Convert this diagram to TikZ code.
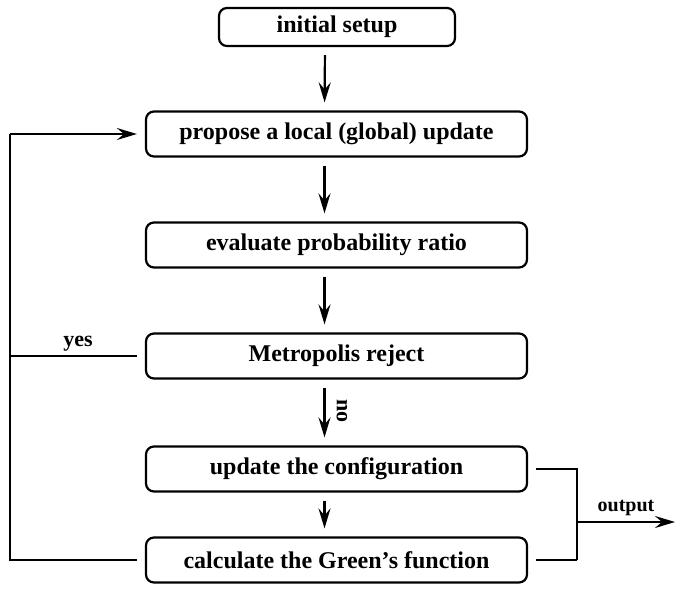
\documentclass[tikz,border=0pt]{standalone}
\usepackage{fontspec}
\setmainfont{Liberation Serif}
\usetikzlibrary{arrows.meta,calc}
\tikzset{
  box/.style={draw,line width=2.2pt,rounded corners=8pt,minimum width=381pt,minimum height=45pt,inner sep=0pt,font=\fontsize{24}{28}\selectfont\bfseries},
  line/.style={line width=2.2pt},
  arr/.style={line width=2.2pt,-{Stealth[length=20pt,width=12pt,inset=7pt]}},
  lbl/.style={font=\fontsize{22}{26}\selectfont\bfseries,inner sep=0pt}
}
\begin{document}
\begin{tikzpicture}[x=1pt,y=-1pt]
\useasboundingbox (0,0) rectangle (675,599);
\node[box,minimum width=236pt,minimum height=38pt] (init) at (337,27) {initial setup};
\node[box] (prop) at (336.5,134) {propose a local (global) update};
\node[box] (eval) at (336.5,245) {evaluate probability ratio};
\node[box] (metro) at (336.5,356) {Metropolis reject};
\node[box] (upd) at (336.5,469) {update the configuration};
\node[box] (calc) at (336.5,560) {calculate the Green's function};
\coordinate (L1) at (10,134);
\coordinate (L2) at (10,356);
\coordinate (L3) at (10,560);
\coordinate (R1) at (577,469);
\coordinate (R2) at (577,560);
\coordinate (Rm) at (577,522);
\coordinate (out) at (675,522);
\foreach \a/\b in {init/prop,prop/eval,eval/metro,metro/upd,upd/calc}
  \draw[arr,shorten <=8pt,shorten >=8pt] ([xshift=-12pt]\a.south) -- ([xshift=-12pt]\b.north);
\draw[line,shorten <=8pt] (calc.west) -- (L3) -- (L1);
\draw[arr,shorten >=8pt] (L1) -- (prop.west);
\draw[line,shorten <=8pt] (metro.west) -- (L2);
\node[lbl,anchor=south] at (78,351) {yes};
\draw[line,shorten <=8pt] (upd.east) -- (R1) -- (R2);
\draw[line,shorten <=8pt] (calc.east) -- (R2);
\draw[arr] (Rm) -- (out);
\node[lbl,anchor=south,font=\fontsize{20}{24}\selectfont\bfseries] at (626,516) {output};
\node[lbl,rotate=-90] at (342,411) {no};
\end{tikzpicture}
\end{document}
